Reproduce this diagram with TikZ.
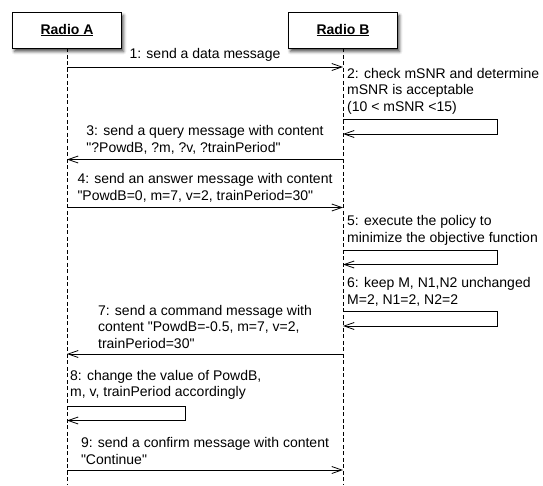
\documentclass[tikz,border=0pt]{standalone}
\usepackage{fontspec}
\setmainfont{Liberation Sans}[Ligatures=TeXOff]
\usetikzlibrary{arrows.meta,shadows.blur}

\tikzset{
  radio/.style={draw, fill=white, line width=0.8pt, minimum width=109pt, minimum height=36pt,
    font=\fontsize{14}{16}\selectfont\bfseries,
    blur shadow={shadow xshift=2pt, shadow yshift=-3.5pt, shadow blur radius=3pt, shadow opacity=70}},
  life/.style={line width=0.7pt, dash pattern=on 4pt off 2.5pt},
  msg/.style={line width=0.8pt, -{Straight Barb[length=10pt,width=7pt]}},
  txt/.style={align=left, inner sep=0pt, font=\fontsize{14}{16.5}\selectfont},
  lbl/.style={txt, midway, anchor=south, yshift=5pt},
}

\begin{document}
\begin{tikzpicture}[x=1pt,y=-1pt]
\useasboundingbox (0,0) rectangle (543,485);

% the two radios and their lifelines
\node[radio] (boxA) at (67,30) {\underline{Radio A}};
\node[radio] (boxB) at (343,30) {\underline{Radio B}};
\coordinate (endA) at (67,485);
\coordinate (endB) at (343,485);
\draw[life] (boxA.south) -- (endA);
\draw[life] (boxB.south) -- (endB);

% messages between the radios
\coordinate (a1) at (boxA |- 0,67);    \coordinate (b1) at (boxB |- 0,67);
\coordinate (a3) at (boxA |- 0,159.5); \coordinate (b3) at (boxB |- 0,159.5);
\coordinate (a4) at (boxA |- 0,207.5); \coordinate (b4) at (boxB |- 0,207.5);
\coordinate (a7) at (boxA |- 0,354);   \coordinate (b7) at (boxB |- 0,354);
\coordinate (a9) at (boxA |- 0,470);   \coordinate (b9) at (boxB |- 0,470);
\draw[msg] (a1) -- (b1) node[lbl] (m1) {1: send a data message};
\draw[msg] (b3) -- (a3) node[lbl] (m3) {3: send a query message with content\\"?PowdB, ?m, ?v, ?trainPeriod"};
\draw[msg] (a4) -- (b4) node[lbl] (m4) {4: send an answer message with content\\"PowdB=0, m=7, v=2, trainPeriod=30"};
\draw[msg] (b7) -- (a7) node[lbl] (m7) {7: send a command message with\\content "PowdB=-0.5, m=7, v=2,\\trainPeriod=30"};
\draw[msg] (a9) -- (b9) node[lbl] (m9) {9: send a confirm message with content\\"Continue"};

% self messages of radio B
\foreach \t/\b [count=\i] in {119.5/134, 250/264.5, 311.5/326}{
  \coordinate (st\i) at (boxB |- 0,\t);
  \coordinate (sb\i) at (boxB |- 0,\b);
  \draw[msg] (st\i) -- ++(154,0) |- (sb\i);
}
\node[txt, anchor=north west] (n2) at (347,67.8) {2: check mSNR and determine\\mSNR is acceptable\\(10 < mSNR <15)};
\node[txt, anchor=north west] (n5) at (347,215.3) {5: execute the policy to\\minimize the objective function};
\node[txt, anchor=north west] (n6) at (347,277.3) {6: keep M, N1,N2 unchanged\\M=2, N1=2, N2=2};

% self message of radio A
\coordinate (st4) at (boxA |- 0,406);
\coordinate (sb4) at (boxA |- 0,420.5);
\draw[msg] (st4) -- ++(118,0) |- (sb4);
\node[txt, anchor=north west] (n8) at (70,369.8) {8: change the value of PowdB,\\m, v, trainPeriod accordingly};
\end{tikzpicture}
\end{document}
